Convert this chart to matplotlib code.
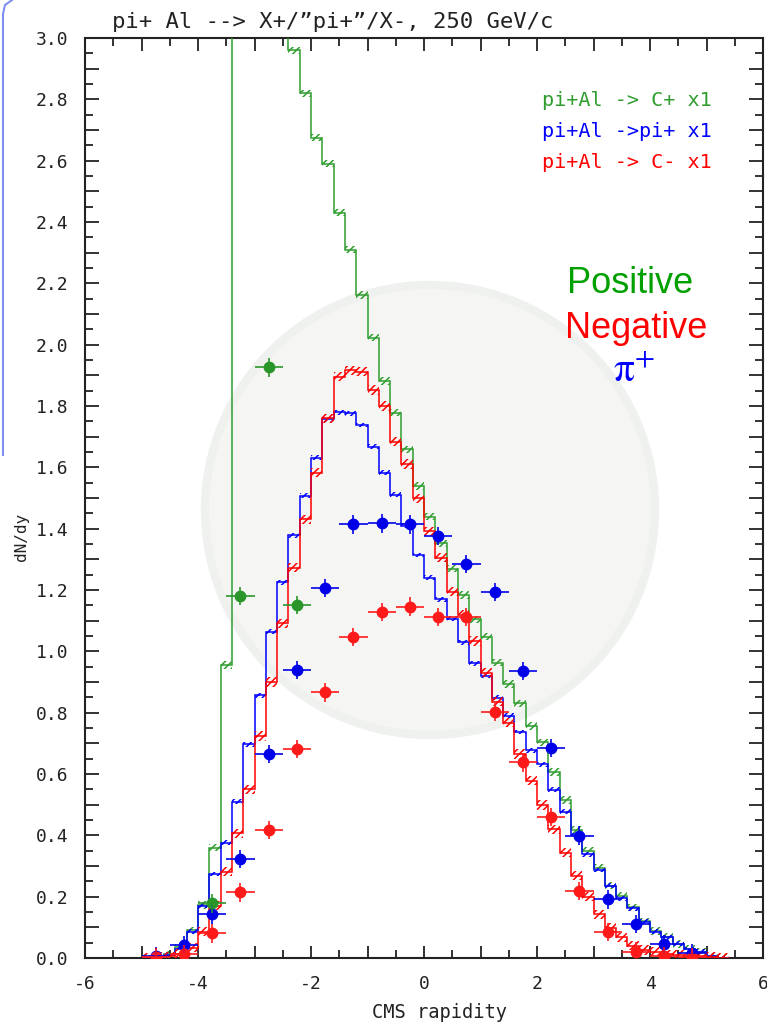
#!/usr/bin/env python3

import numpy as np
import matplotlib
matplotlib.use('Agg')
from matplotlib import rcParams, pyplot as pp
from matplotlib.patches import Ellipse
from matplotlib.lines import Line2D
from matplotlib.ticker import MultipleLocator, FuncFormatter

################################################################################
# Model histograms, 0.2 wide bins starting at y = -5.0
bin_lo = -5.0
bin_w = 0.2

hist_pos = [0.0, 0.003, 0.012, 0.035, 0.09, 0.173, 0.36, 0.955,
	6.0, 8.0, 7.0, 5.0, 3.6,
	2.96, 2.82, 2.675, 2.59, 2.43, 2.31, 2.162, 2.023, 1.882, 1.778,
	1.659, 1.539, 1.439, 1.352, 1.27, 1.184, 1.104, 1.048, 0.963, 0.893,
	0.83, 0.757, 0.703, 0.607, 0.515, 0.417, 0.35, 0.294, 0.236, 0.203,
	0.165, 0.12, 0.088, 0.068, 0.046, 0.03, 0.02, 0.005, 0.0]

hist_pi = [0.0, 0.004, 0.01, 0.03, 0.085, 0.17, 0.274, 0.376,
	0.51, 0.697, 0.857, 1.064, 1.225,
	1.379, 1.507, 1.632, 1.756, 1.779, 1.776, 1.738, 1.667, 1.582, 1.51,
	1.41, 1.314, 1.24, 1.17, 1.106, 1.03, 0.961, 0.92, 0.849, 0.79,
	0.737, 0.678, 0.631, 0.548, 0.477, 0.401, 0.338, 0.287, 0.236, 0.195,
	0.162, 0.118, 0.086, 0.067, 0.046, 0.029, 0.021, 0.005, 0.0]

hist_neg = [0.0, 0.003, 0.006, 0.013, 0.034, 0.086, 0.17, 0.281,
	0.407, 0.55, 0.724, 0.90, 1.091,
	1.273, 1.43, 1.583, 1.76, 1.895, 1.917, 1.912, 1.852, 1.80, 1.684,
	1.611, 1.499, 1.392, 1.305, 1.194, 1.12, 1.034, 0.93, 0.836, 0.767,
	0.665, 0.578, 0.499, 0.42, 0.343, 0.268, 0.20, 0.142, 0.099, 0.067,
	0.04, 0.026, 0.02, 0.012, 0.01, 0.008, 0.006, 0.004, 0.0]

# Measured points, 0.5 wide bins
pt_y = [-4.75, -4.25, -3.75, -3.25, -2.75, -2.25, -1.75, -1.25, -0.75, -0.25,
	0.25, 0.75, 1.25, 1.75, 2.25, 2.75, 3.25, 3.75, 4.25, 4.75]
pts_pi = [0.006, 0.042, 0.142, 0.323, 0.665, 0.939, 1.207, 1.414, 1.417, 1.414,
	1.377, 1.285, 1.194, 0.936, 0.684, 0.399, 0.191, 0.111, 0.045, 0.017]
pts_neg = [0.003, 0.012, 0.08, 0.214, 0.417, 0.681, 0.866, 1.046, 1.128, 1.146,
	1.112, 1.111, 0.803, 0.638, 0.459, 0.219, 0.084, 0.021, 0.007, 0.003]

pos_y = [-3.75, -3.25, -2.75, -2.25]
pts_pos = [0.178, 1.181, 1.926, 1.151]

pt_xerr = 0.25
pt_yerr = 0.03

legend_lines = ['pi+Al -> C+ x1', 'pi+Al ->pi+ x1', 'pi+Al -> C- x1']

################################################################################
c_pos = '#2f9e2f'
c_pi = '#0000ff'
c_neg = '#ff0000'

rcParams['axes.unicode_minus'] = False
rcParams['font.family'] = 'DejaVu Sans Mono'
rcParams['hatch.linewidth'] = 1.1

W, H = 767, 1024
fig = pp.figure(figsize=(W/100, H/100), dpi=100)

# faint logo watermark behind the frame
fig.patches.append(Ellipse((430/W, 1-510/H), 450/W, 450/H,
	transform=fig.transFigure, facecolor='#f5f6f4', edgecolor='#eff1ef',
	lw=6, zorder=-10))
# slide border remnant at the top left
fig.lines.append(Line2D([3/W, 3/W, 5/W, 12/W], [1-455/H, 1-14/H, 1-5/H, 1.0],
	transform=fig.transFigure, color='#8090f0', lw=1.5, zorder=-5))

ax = fig.add_axes([85/W, 1-958/H, 678/W, 920/H])
ax.set_facecolor('none')

edges = bin_lo + bin_w*np.arange(len(hist_pos)+1)
centers = 0.5*(edges[1:] + edges[:-1])

for vals, col, herr in [(hist_pos, c_pos, 0.012), (hist_pi, c_pi, 0.008),
		(hist_neg, c_neg, 0.015)]:
	vals = np.array(vals)
	ax.stairs(vals, edges, color=col, lw=1.1, baseline=None, zorder=3)
	ax.bar(centers, 2*herr, bottom=vals-herr, width=bin_w, fill=False,
		hatch='/////', edgecolor=col, lw=0, zorder=3)

for xs, ys, col in [(pt_y, pts_pi, '#0000e8'), (pt_y, pts_neg, '#ff1a1a'),
		(pos_y, pts_pos, '#2a962a')]:
	ax.plot(xs, ys, 'o', ms=7.5, color=col, mec=col, zorder=5)
	ax.errorbar(xs, ys, xerr=pt_xerr, yerr=pt_yerr, fmt='none', ecolor=col,
		elinewidth=1.4, capsize=0, alpha=0.85, zorder=6)

ax.set_xlim(-6, 6)
ax.set_ylim(0, 3.0)

ax.xaxis.set_major_locator(MultipleLocator(1))
ax.xaxis.set_minor_locator(MultipleLocator(0.5))
ax.yaxis.set_major_locator(MultipleLocator(0.1))
ax.yaxis.set_minor_locator(MultipleLocator(0.05))
ax.xaxis.set_major_formatter(FuncFormatter(
	lambda v, p: '%d' % round(v) if round(v) % 2 == 0 else ''))
ax.yaxis.set_major_formatter(FuncFormatter(
	lambda v, p: '%.1f' % v if round(v*10) % 2 == 0 else ''))

ax.tick_params(which='both', direction='in', top=True, right=True,
	width=1.3, colors='#222222', labelcolor='#222222', labelsize=13)
ax.tick_params(axis='x', which='major', length=9, pad=12)
ax.tick_params(axis='x', which='minor', length=5.5)
ax.tick_params(axis='y', which='major', length=10, pad=12)
ax.tick_params(axis='y', which='minor', length=6)
for sp in ax.spines.values():
	sp.set_linewidth(1.5)
	sp.set_color('#222222')

################################################################################
# Text
fig.text(112/W, 1-22/H, 'pi+ Al --> X+/\u201dpi+\u201d/X-, 250 GeV/c',
	fontsize=16, va='center', ha='left', color='#222222')
fig.text(440/W, 1-1012/H, 'CMS rapidity', fontsize=13.5, ha='center',
	va='center', color='#222222')
fig.text(22/W, 1-537/H, 'dN/dy', fontsize=11.5, rotation=90, ha='center',
	va='center', color='#222222')

for i, (txt, col) in enumerate(zip(legend_lines, [c_pos, c_pi, c_neg])):
	ax.text(0.674, 0.9326 - 0.0337*i, txt, transform=ax.transAxes,
		fontsize=14.5, color=col, ha='left', va='center')

ax.text(0.804, 0.7228, 'Positive', transform=ax.transAxes, color='#00a000',
	fontsize=26, family='Liberation Sans', ha='center', va='baseline')
ax.text(0.8127, 0.6739, 'Negative', transform=ax.transAxes, color='#ff0000',
	fontsize=26, family='Liberation Sans', ha='center', va='baseline')
fig.text(634/W, 1-382/H, r'$\mathrm{\pi}^{+}$', color='#0000ff', fontsize=30,
	math_fontfamily='stix', ha='center', va='baseline')

fig.savefig('out.png', dpi=100)
